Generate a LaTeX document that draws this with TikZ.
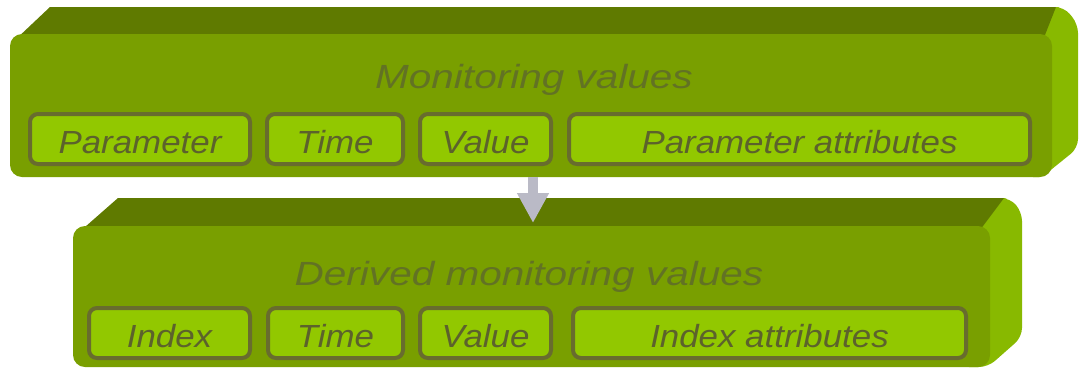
\documentclass[tikz,border=0pt]{standalone}
\usepackage{fontspec}
\setmainfont{Liberation Sans}
\usepackage{graphicx}
\usetikzlibrary{arrows.meta}

\definecolor{topdark}{RGB}{95,122,0}
\definecolor{frontgreen}{RGB}{121,159,0}
\definecolor{sidegreen}{RGB}{136,185,0}
\definecolor{cellfill}{RGB}{146,200,0}
\definecolor{cellborder}{RGB}{104,108,46}
\definecolor{celltext}{RGB}{92,98,44}
\definecolor{titletext}{RGB}{98,114,36}
\definecolor{arrowgray}{RGB}{186,186,198}

\begin{document}
\begin{tikzpicture}[x=1pt,y=-1pt,
  frontface/.style={fill=frontgreen, rounded corners=12pt, inner sep=0pt, draw=none},
  sideface/.style={fill=sidegreen, rounded corners=9pt},
  topface/.style={fill=topdark},
  cell/.style={draw=cellborder, line width=4pt, fill=cellfill, rounded corners=8pt,
    inner sep=0pt, minimum height=50pt, text height=29pt, text depth=0pt,
    font=\fontsize{32}{36}\selectfont\itshape, text=celltext},
  blocktitle/.style={font=\fontsize{33.5}{38}\selectfont\itshape, text=titletext,
    inner sep=0pt, anchor=base},
  flowarrow/.style={draw=arrowgray, line width=10pt, -{Triangle[length=30pt,width=30pt]}},
]
\useasboundingbox (0,0) rectangle (1079,368);

% upper block: side, top and front faces
\fill[sideface] (1036,40) -- (1050,7) -- (1064,7) -- (1078,24) -- (1078,148) -- (1042,177) -- (1030,177) -- cycle;
\fill[topface] (14,41) -- (50,7) -- (1056,7) -- (1043,40) -- cycle;
\node[frontface, minimum width=1042pt, minimum height=143pt] (upper) at (531,105.5) {};
\node[blocktitle] (uppertitle) at (534,88) {\scalebox{1.21}[1]{Monitoring values}};

\node[cell, minimum width=220pt] (param) at (140,139) {\scalebox{1.09}[1]{Parameter}};
\node[cell, minimum width=136pt] (time1) at (335,139) {\scalebox{1.09}[1]{Time}};
\node[cell, minimum width=131pt] (value1) at (485.5,139) {\scalebox{1.09}[1]{Value}};
\node[cell, minimum width=461pt] (pattr) at (799.5,139) {\scalebox{1.09}[1]{Parameter attributes}};

% lower block: side, top and front faces
\fill[sideface] (976,230) -- (998,198) -- (1010,198) -- (1022,212) -- (1022,337) -- (988,367) -- (960,367) -- cycle;
\fill[topface] (77,234) -- (118,198) -- (1004,198) -- (980,230) -- cycle;
\node[frontface, minimum width=917pt, minimum height=141pt] (lower) at (531.5,296.5) {};
\node[blocktitle] (lowertitle) at (529,285) {\scalebox{1.21}[1]{Derived monitoring values}};

\node[cell, minimum width=161pt] (index) at (169.5,333) {\scalebox{1.09}[1]{Index}};
\node[cell, minimum width=135pt] (time2) at (335.5,333) {\scalebox{1.09}[1]{Time}};
\node[cell, minimum width=131pt] (value2) at (485.5,333) {\scalebox{1.09}[1]{Value}};
\node[cell, minimum width=393pt] (iattr) at (769.5,333) {\scalebox{1.09}[1]{Index attributes}};

% derivation arrow
\coordinate (tip) at (533,223);
\draw[flowarrow] (upper.south -| tip) -- (tip);
\end{tikzpicture}
\end{document}
